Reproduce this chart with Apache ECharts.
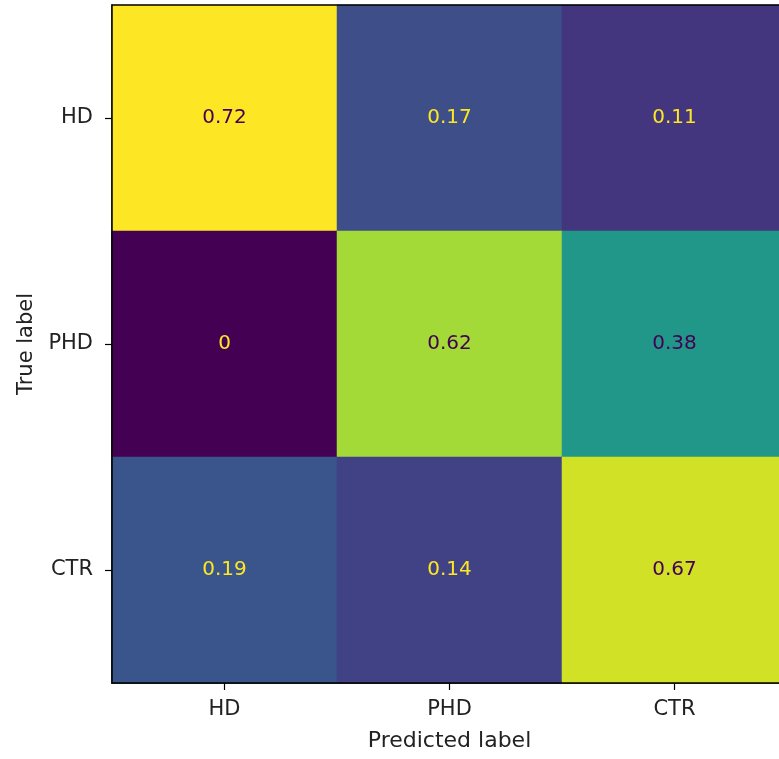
<!DOCTYPE html>
<html>
<head>
<meta charset="utf-8">
<script src="https://cdn.jsdelivr.net/npm/echarts@6/dist/echarts.min.js"></script>
<style>html,body{margin:0;padding:0;background:#fff}#c{width:779px;height:759px}</style>
</head>
<body>
<div id="c"></div>
<script>
const predictedLabels = ['HD', 'PHD', 'CTR'];
const trueLabels = ['HD', 'PHD', 'CTR'];
const rowHD = [0.72, 0.17, 0.11];
const rowPHD = [0, 0.62, 0.38];
const rowCTR = [0.19, 0.14, 0.67];
const matrix = [rowHD, rowPHD, rowCTR];

const viridis = ['#440154','#482475','#414487','#355f8d','#2a788e','#21918c','#22a884','#44bf70','#7ad151','#bddf26','#fde725'];
const all = matrix.flat();
const vmin = Math.min(...all), vmax = Math.max(...all);
const thresh = (vmin + vmax) / 2;

const data = [];
matrix.forEach((row, yi) => row.forEach((v, xi) => {
  data.push({ value: [xi, yi, v], label: { color: v >= thresh ? '#440154' : '#fde725' } });
}));

const chart = echarts.init(document.getElementById('c'));
const font = 'DejaVu Sans';
chart.setOption({
  animation: false,
  grid: { left: 112, top: 5, width: 675, height: 678, outerBoundsMode: 'none', containLabel: false,
          show: true, borderColor: '#000', borderWidth: 1.5, backgroundColor: 'transparent', z: 10 },
  xAxis: {
    type: 'category', data: predictedLabels, position: 'bottom',
    name: 'Predicted label', nameLocation: 'middle', nameGap: 47,
    nameTextStyle: { fontFamily: font, fontSize: 22, color: '#222' },
    axisLine: { show: true, lineStyle: { color: '#000', width: 1.5 } },
    axisTick: { show: true, alignWithLabel: true, length: 7, lineStyle: { color: '#000', width: 1.2 } },
    axisLabel: { fontFamily: font, fontSize: 21, color: '#222', margin: 16 },
    splitLine: { show: false }, splitArea: { show: false }
  },
  yAxis: {
    type: 'category', data: trueLabels, inverse: true,
    name: 'True label', nameLocation: 'middle', nameGap: 74, nameRotate: 90,
    nameTextStyle: { fontFamily: font, fontSize: 21, color: '#222' },
    axisLine: { show: true, lineStyle: { color: '#000', width: 1.5 } },
    axisTick: { show: true, alignWithLabel: true, length: 7, lineStyle: { color: '#000', width: 1.2 } },
    axisLabel: { fontFamily: font, fontSize: 21, color: '#222', margin: 19 },
    splitLine: { show: false }, splitArea: { show: false }
  },
  visualMap: { show: false, min: vmin, max: vmax, dimension: 2, inRange: { color: viridis } },
  series: [{
    type: 'heatmap', data: data,
    label: { show: true, fontFamily: font, fontSize: 20, formatter: p => String(p.value[2]) },
    itemStyle: { borderWidth: 0 },
    emphasis: { disabled: true }
  }]
});
</script>
</body>
</html>
